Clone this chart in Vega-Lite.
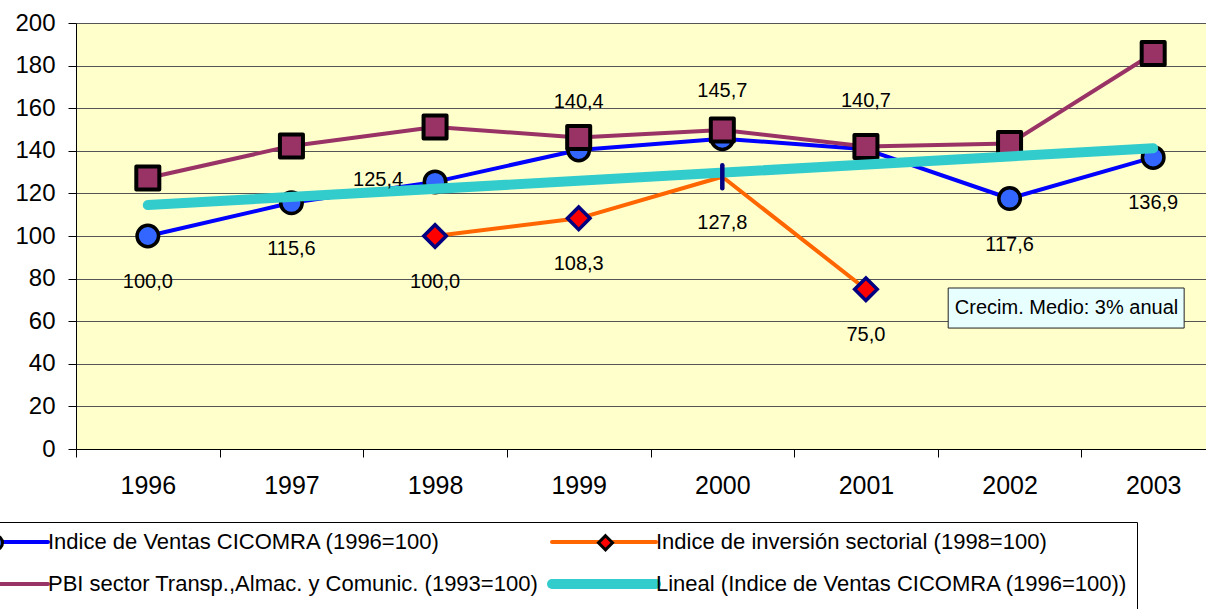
{
  "$schema": "https://vega.github.io/schema/vega-lite/v6.json",
  "width": 1130,
  "height": 426,
  "autosize": {"type": "none"},
  "padding": {"left": 76, "top": 23, "right": 0, "bottom": 160},
  "background": "white",
  "config": {
    "font": "Liberation Sans",
    "view": {"fill": "#FFFFCC", "stroke": null},
    "locale": {"number": {"decimal": ",", "thousands": ".", "grouping": [3], "currency": ["", ""]}}
  },
  "data": {
    "values": [
      {"series": "Indice de Ventas CICOMRA (1996=100)", "year": "1996", "value": 100.0},
      {"series": "Indice de Ventas CICOMRA (1996=100)", "year": "1997", "value": 115.6},
      {"series": "Indice de Ventas CICOMRA (1996=100)", "year": "1998", "value": 125.4},
      {"series": "Indice de Ventas CICOMRA (1996=100)", "year": "1999", "value": 140.4},
      {"series": "Indice de Ventas CICOMRA (1996=100)", "year": "2000", "value": 145.7},
      {"series": "Indice de Ventas CICOMRA (1996=100)", "year": "2001", "value": 140.7},
      {"series": "Indice de Ventas CICOMRA (1996=100)", "year": "2002", "value": 117.6},
      {"series": "Indice de Ventas CICOMRA (1996=100)", "year": "2003", "value": 136.9},
      {"series": "Indice de inversión sectorial (1998=100)", "year": "1998", "value": 100.0},
      {"series": "Indice de inversión sectorial (1998=100)", "year": "1999", "value": 108.3},
      {"series": "Indice de inversión sectorial (1998=100)", "year": "2000", "value": 127.8},
      {"series": "Indice de inversión sectorial (1998=100)", "year": "2001", "value": 75.0},
      {"series": "PBI sector Transp.,Almac. y Comunic. (1993=100)", "year": "1996", "value": 127.2},
      {"series": "PBI sector Transp.,Almac. y Comunic. (1993=100)", "year": "1997", "value": 142.3},
      {"series": "PBI sector Transp.,Almac. y Comunic. (1993=100)", "year": "1998", "value": 151.2},
      {"series": "PBI sector Transp.,Almac. y Comunic. (1993=100)", "year": "1999", "value": 146.2},
      {"series": "PBI sector Transp.,Almac. y Comunic. (1993=100)", "year": "2000", "value": 149.8},
      {"series": "PBI sector Transp.,Almac. y Comunic. (1993=100)", "year": "2001", "value": 142.0},
      {"series": "PBI sector Transp.,Almac. y Comunic. (1993=100)", "year": "2002", "value": 143.4},
      {"series": "PBI sector Transp.,Almac. y Comunic. (1993=100)", "year": "2003", "value": 185.7},
      {"series": "Lineal (Indice de Ventas CICOMRA (1996=100))", "year": "1996", "value": 114.5},
      {"series": "Lineal (Indice de Ventas CICOMRA (1996=100))", "year": "2003", "value": 141.2}
    ]
  },
  "encoding": {
    "x": {
      "field": "year", "type": "ordinal",
      "scale": {"type": "band", "domain": ["1996", "1997", "1998", "1999", "2000", "2001", "2002", "2003"], "range": [0, 1149], "paddingInner": 0, "paddingOuter": 0},
      "axis": {"title": null, "tickBand": "extent", "tickSize": 8, "labelFontSize": 25, "labelPadding": 16, "labelAngle": 0, "labelColor": "black", "domainColor": "black", "tickColor": "black", "grid": false}
    },
    "y": {
      "field": "value", "type": "quantitative",
      "scale": {"domain": [0, 200], "nice": false},
      "axis": {"title": null, "values": [0, 20, 40, 60, 80, 100, 120, 140, 160, 180, 200], "labelFontSize": 24, "tickSize": 8, "labelPadding": 13, "labelColor": "black", "domainColor": "black", "tickColor": "black", "grid": true, "gridColor": "#555555", "gridWidth": 1}
    }
  },
  "layer": [
    {
      "transform": [{"filter": {"field": "series", "equal": "Indice de Ventas CICOMRA (1996=100)"}}],
      "mark": {"type": "line", "strokeWidth": 4, "strokeCap": "round", "strokeJoin": "round"},
      "encoding": {
        "stroke": {
          "field": "series", "type": "nominal",
          "scale": {"domain": ["Indice de Ventas CICOMRA (1996=100)", "Indice de inversión sectorial (1998=100)", "PBI sector Transp.,Almac. y Comunic. (1993=100)", "Lineal (Indice de Ventas CICOMRA (1996=100))"], "range": ["#0000FF", "#FF6600", "#993366", "#33CCCC"]},
          "legend": {
            "orient": "none", "legendX": -100, "legendY": 499, "columns": 2, "direction": "horizontal", "title": null,
            "symbolType": "M-1,0L1,0", "symbolSize": 10816, "symbolStrokeWidth": 4, "symbolOpacity": 1,
            "labelFontSize": 22, "labelColor": "black", "labelOffset": 41, "labelLimit": 1000,
            "columnPadding": -7, "rowPadding": 11, "padding": 9, "strokeColor": "black",
            "encode": {"symbols": {"update": {"strokeWidth": {"signal": "datum.value === 'Lineal (Indice de Ventas CICOMRA (1996=100))' ? 10 : 4"}, "strokeCap": {"value": "round"}}}}
          }
        }
      }
    },
    {
      "transform": [{"filter": {"field": "series", "equal": "Indice de Ventas CICOMRA (1996=100)"}}],
      "mark": {"type": "point", "filled": true, "opacity": 1, "size": 25375, "stroke": "black", "strokeWidth": 3.5},
      "encoding": {
        "fill": {
          "field": "series", "type": "nominal",
          "scale": {"domain": ["Indice de Ventas CICOMRA (1996=100)", "Indice de inversión sectorial (1998=100)", "PBI sector Transp.,Almac. y Comunic. (1993=100)"], "range": ["#3366FF", "#FF0000", "#993366"]},
          "legend": {
            "orient": "none", "legendX": -143, "legendY": 457, "columns": 2, "direction": "horizontal", "title": null,
            "symbolSize": 10816, "symbolStrokeWidth": 3, "symbolOpacity": 1,
            "labelFontSize": 22, "labelColor": "transparent", "labelOffset": 41, "labelLimit": 465,
            "columnPadding": 0, "rowPadding": 11, "padding": 9,
            "encode": {"symbols": {"update": {"stroke": {"signal": "datum.value === 'Indice de inversión sectorial (1998=100)' ? '#000080' : 'black'"}, "strokeWidth": {"value": 3}}}}
          }
        },
        "shape": {
          "field": "series", "type": "nominal",
          "scale": {"domain": ["Indice de Ventas CICOMRA (1996=100)", "Indice de inversión sectorial (1998=100)", "PBI sector Transp.,Almac. y Comunic. (1993=100)"], "range": ["M-1.01,0M1.01,0M-0.135,0A0.135,0.135,0,1,0,0.135,0A0.135,0.135,0,1,0,-0.135,0Z", "M-1.01,0M1.01,0M0,-0.135L0.135,0L0,0.135L-0.135,0Z", "M-1.01,0M1.01,0M-0.13,-0.13L0.13,-0.13L0.13,0.13L-0.13,0.13Z"]},
          "legend": {
            "orient": "none", "legendX": -143, "legendY": 457, "columns": 2, "direction": "horizontal", "title": null,
            "symbolSize": 10816, "symbolStrokeWidth": 3, "symbolOpacity": 1,
            "labelFontSize": 22, "labelColor": "transparent", "labelOffset": 41, "labelLimit": 465,
            "columnPadding": 0, "rowPadding": 11, "padding": 9
          }
        }
      }
    },
    {
      "transform": [{"filter": {"field": "series", "equal": "PBI sector Transp.,Almac. y Comunic. (1993=100)"}}],
      "mark": {"type": "line", "strokeWidth": 4, "strokeCap": "round", "strokeJoin": "round"},
      "encoding": {"stroke": {"field": "series", "type": "nominal"}}
    },
    {
      "transform": [{"filter": {"field": "series", "equal": "PBI sector Transp.,Almac. y Comunic. (1993=100)"}}],
      "mark": {"type": "point", "filled": true, "opacity": 1, "size": 31329, "stroke": "black", "strokeWidth": 4, "strokeJoin": "round"},
      "encoding": {"fill": {"field": "series", "type": "nominal"}, "shape": {"field": "series", "type": "nominal"}}
    },
    {
      "transform": [{"filter": {"field": "series", "equal": "Indice de inversión sectorial (1998=100)"}}],
      "mark": {"type": "line", "strokeWidth": 4, "strokeCap": "round", "strokeJoin": "round"},
      "encoding": {"stroke": {"field": "series", "type": "nominal"}}
    },
    {
      "transform": [{"filter": {"field": "series", "equal": "Lineal (Indice de Ventas CICOMRA (1996=100))"}}],
      "mark": {"type": "line", "strokeWidth": 10, "strokeCap": "round", "strokeJoin": "round"},
      "encoding": {"stroke": {"field": "series", "type": "nominal"}}
    },
    {
      "transform": [{"filter": {"and": [{"field": "series", "equal": "Indice de inversión sectorial (1998=100)"}, {"not": {"field": "year", "equal": "2000"}}]}}],
      "mark": {"type": "point", "filled": true, "opacity": 1, "size": 28023, "stroke": "#000080", "strokeWidth": 3.5, "strokeJoin": "miter"},
      "encoding": {"fill": {"field": "series", "type": "nominal"}, "shape": {"field": "series", "type": "nominal"}}
    },
    {
      "transform": [{"filter": {"and": [{"field": "series", "equal": "Indice de inversión sectorial (1998=100)"}, {"field": "year", "equal": "2000"}]}}],
      "mark": {"type": "point", "filled": false, "opacity": 1, "shape": "M0,-1L0,1", "size": 529, "stroke": "#000080", "strokeWidth": 4.5, "strokeCap": "round"}
    },
    {
      "transform": [{"filter": {"or": [
        {"and": [{"field": "series", "equal": "Indice de Ventas CICOMRA (1996=100)"}, {"field": "year", "oneOf": ["1996", "1997", "2002", "2003"]}]},
        {"field": "series", "equal": "Indice de inversión sectorial (1998=100)"}
      ]}}],
      "mark": {"type": "text", "dy": 46, "fontSize": 20, "baseline": "middle", "align": "center", "color": "black"},
      "encoding": {"text": {"field": "value", "type": "quantitative", "format": ".1f"}}
    },
    {
      "transform": [{"filter": {"and": [{"field": "series", "equal": "Indice de Ventas CICOMRA (1996=100)"}, {"field": "year", "oneOf": ["1999", "2000", "2001"]}]}}],
      "mark": {"type": "text", "dy": -48, "fontSize": 20, "baseline": "middle", "align": "center", "color": "black"},
      "encoding": {"text": {"field": "value", "type": "quantitative", "format": ".1f"}}
    },
    {
      "transform": [{"filter": {"and": [{"field": "series", "equal": "Indice de Ventas CICOMRA (1996=100)"}, {"field": "year", "equal": "1998"}]}}],
      "mark": {"type": "text", "dx": -57, "dy": -2, "fontSize": 20, "baseline": "middle", "align": "center", "color": "black"},
      "encoding": {"text": {"field": "value", "type": "quantitative", "format": ".1f"}}
    },
    {
      "data": {"values": [{"year": "2002", "value": 66, "note": "Crecim. Medio: 3% anual"}]},
      "mark": {"type": "point", "filled": true, "opacity": 1, "shape": "M-0.472,-0.157L1.343,-0.157L1.343,0.151L-0.472,0.151Z", "size": 67600, "fill": "#E8FFFF", "stroke": "#222222", "strokeWidth": 1}
    },
    {
      "data": {"values": [{"year": "2002", "value": 66, "note": "Crecim. Medio: 3% anual"}]},
      "mark": {"type": "text", "dx": 57, "fontSize": 20, "baseline": "middle", "align": "center", "color": "black"},
      "encoding": {"text": {"field": "note", "type": "nominal"}}
    }
  ]
}
